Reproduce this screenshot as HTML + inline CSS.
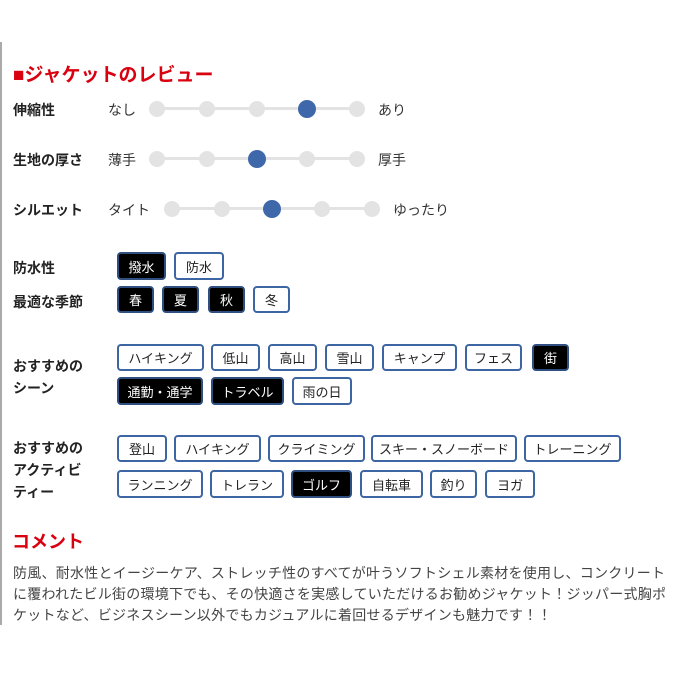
<!DOCTYPE html>
<html><head><meta charset="utf-8"><style>
*{margin:0;padding:0;box-sizing:border-box}
body{width:700px;height:700px;background:#fff;position:relative;overflow:hidden;font-family:"Liberation Sans","Noto Sans CJK JP",sans-serif;color:#333}
.a{position:absolute;white-space:nowrap}
.lb{font-weight:bold;font-size:14px;color:#222}
.h{color:#d9000f;font-weight:bold;font-size:18px}
.t{position:absolute;border:2px solid #3d64a3;border-radius:4px;background:#fff;font-size:13px;color:#222;text-align:center;display:flex;align-items:center;justify-content:center;white-space:nowrap}
.t.on{background:#000;color:#fff;border-color:#2f4f80}
.line{position:absolute;height:3px;background:#e3e3e3}
.d{position:absolute;width:16px;height:16px;border-radius:50%;background:#e3e3e3}
.d.on{width:18px;height:18px;background:#3f68ab}
.sl{font-size:14px;color:#333}
</style></head><body>
<div class="a" style="left:0;top:42px;width:2px;height:583px;background:#aaa"></div>
<div class="a h" style="left:13px;top:60px;font-size:19px">■ジャケットのレビュー</div>

<div class="a lb" style="left:13px;top:100px">伸縮性</div>
<div class="a sl" style="left:108px;top:100px">なし</div>
<div class="line" style="left:157px;top:107px;width:200px"></div>
<div class="d" style="left:149px;top:101px"></div><div class="d" style="left:199px;top:101px"></div><div class="d" style="left:249px;top:101px"></div><div class="d on" style="left:298px;top:100px"></div><div class="d" style="left:349px;top:101px"></div>
<div class="a sl" style="left:378px;top:100px">あり</div>

<div class="a lb" style="left:13px;top:150px">生地の厚さ</div>
<div class="a sl" style="left:108px;top:150px">薄手</div>
<div class="line" style="left:157px;top:157px;width:200px"></div>
<div class="d" style="left:149px;top:151px"></div><div class="d" style="left:199px;top:151px"></div><div class="d on" style="left:248px;top:150px"></div><div class="d" style="left:299px;top:151px"></div><div class="d" style="left:349px;top:151px"></div>
<div class="a sl" style="left:378px;top:150px">厚手</div>

<div class="a lb" style="left:13px;top:200px">シルエット</div>
<div class="a sl" style="left:108px;top:200px">タイト</div>
<div class="line" style="left:172px;top:207px;width:200px"></div>
<div class="d" style="left:164px;top:201px"></div><div class="d" style="left:214px;top:201px"></div><div class="d on" style="left:263px;top:200px"></div><div class="d" style="left:314px;top:201px"></div><div class="d" style="left:364px;top:201px"></div>
<div class="a sl" style="left:393px;top:200px">ゆったり</div>

<div class="a lb" style="left:13px;top:258px">防水性</div>
<div class="t on" style="left:117px;top:252px;width:49px;height:28px">撥水</div>
<div class="t" style="left:174px;top:252px;width:50px;height:28px">防水</div>

<div class="a lb" style="left:13px;top:292px">最適な季節</div>
<div class="t on" style="left:117px;top:286px;width:37px;height:27px">春</div>
<div class="t on" style="left:162px;top:286px;width:37px;height:27px">夏</div>
<div class="t on" style="left:208px;top:286px;width:37px;height:27px">秋</div>
<div class="t" style="left:253px;top:286px;width:37px;height:27px">冬</div>

<div class="a lb" style="left:13px;top:355px;line-height:22px">おすすめの<br>シーン</div>
<div class="t" style="left:117px;top:344px;width:87px;height:27px">ハイキング</div>
<div class="t" style="left:211px;top:344px;width:49px;height:27px">低山</div>
<div class="t" style="left:268px;top:344px;width:49px;height:27px">高山</div>
<div class="t" style="left:325px;top:344px;width:49px;height:27px">雪山</div>
<div class="t" style="left:382px;top:344px;width:75px;height:27px">キャンプ</div>
<div class="t" style="left:465px;top:344px;width:57px;height:27px">フェス</div>
<div class="t on" style="left:532px;top:344px;width:37px;height:27px">街</div>
<div class="t on" style="left:117px;top:377px;width:86px;height:28px">通勤・通学</div>
<div class="t on" style="left:211px;top:377px;width:73px;height:28px">トラベル</div>
<div class="t" style="left:292px;top:377px;width:60px;height:28px">雨の日</div>

<div class="a lb" style="left:13px;top:437px;line-height:22px">おすすめの<br>アクティビ<br>ティー</div>
<div class="t" style="left:117px;top:435px;width:50px;height:27px">登山</div>
<div class="t" style="left:174px;top:435px;width:87px;height:27px">ハイキング</div>
<div class="t" style="left:268px;top:435px;width:97px;height:27px">クライミング</div>
<div class="t" style="left:371px;top:435px;width:146px;height:27px">スキー・スノーボード</div>
<div class="t" style="left:524px;top:435px;width:97px;height:27px">トレーニング</div>
<div class="t" style="left:117px;top:470px;width:86px;height:28px">ランニング</div>
<div class="t" style="left:210px;top:470px;width:74px;height:28px">トレラン</div>
<div class="t on" style="left:291px;top:470px;width:61px;height:28px">ゴルフ</div>
<div class="t" style="left:360px;top:470px;width:63px;height:28px">自転車</div>
<div class="t" style="left:430px;top:470px;width:47px;height:28px">釣り</div>
<div class="t" style="left:485px;top:470px;width:50px;height:28px">ヨガ</div>

<div class="a h" style="left:12px;top:528px">コメント</div>
<div class="a" style="left:13px;top:563px;font-size:14px;line-height:21px;letter-spacing:0.25px;color:#444">防風、耐水性とイージーケア、ストレッチ性のすべてが叶うソフトシェル素材を使用し、コンクリート<br>に覆われたビル街の環境下でも、その快適さを実感していただけるお勧めジャケット！ジッパー式胸ポ<br>ケットなど、ビジネスシーン以外でもカジュアルに着回せるデザインも魅力です！！</div>
</body></html>
